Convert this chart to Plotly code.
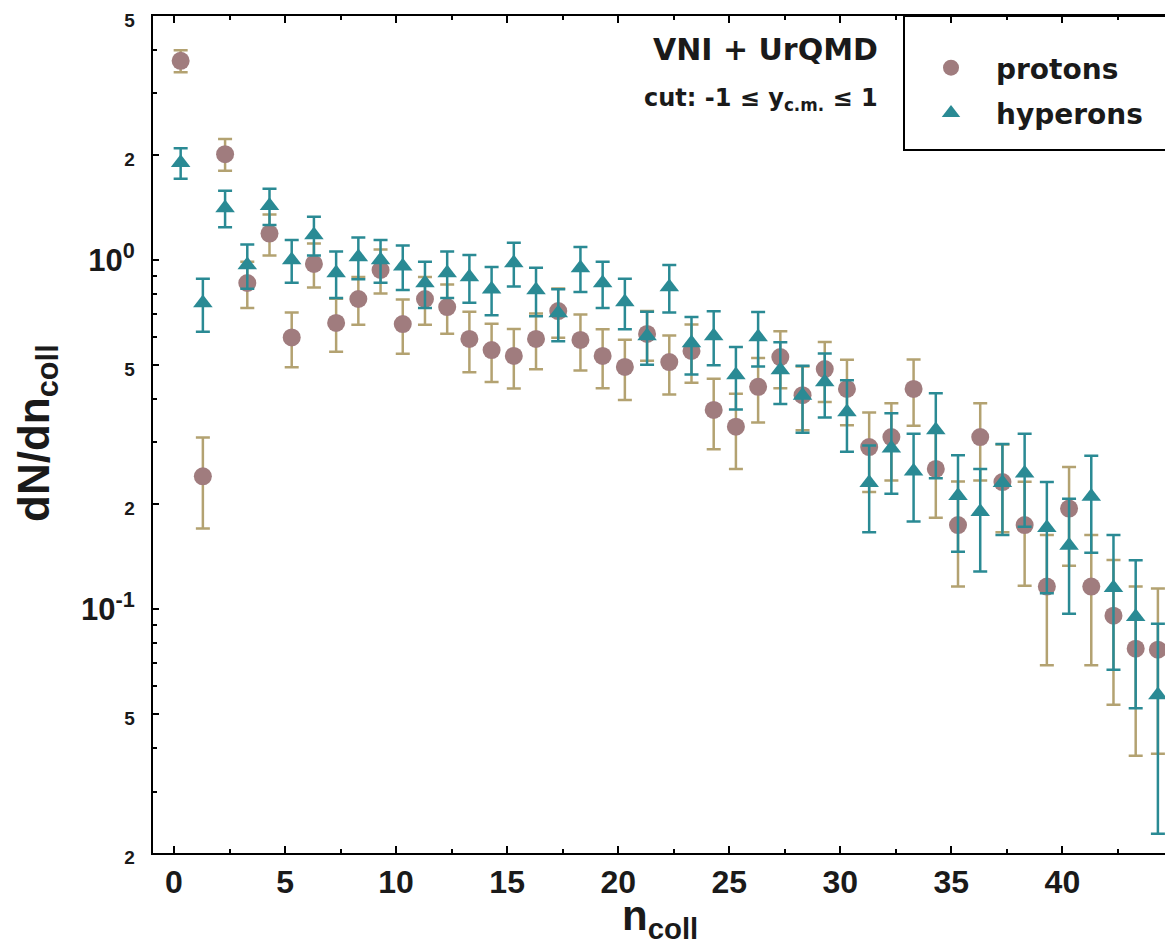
import plotly.graph_objects as go

# ---------------- data ----------------
n_coll = [i + 0.3 for i in range(45)]

protons = [3.72, 0.240, 2.01, 0.859, 1.19, 0.60, 0.974, 0.66, 0.773, 0.936,
           0.655, 0.773, 0.733, 0.594, 0.552, 0.531, 0.594, 0.714, 0.59, 0.531,
           0.494, 0.614, 0.51, 0.549, 0.372, 0.333, 0.433, 0.527, 0.41, 0.487,
           0.427, 0.291, 0.311, 0.427, 0.252, 0.174, 0.311, 0.231, 0.174, 0.116,
           0.194, 0.116, 0.0957, 0.077, 0.0765]
protons_err = [0.27, 0.07, 0.21, 0.13, 0.16, 0.107, 0.14, 0.114, 0.121, 0.135,
               0.116, 0.121, 0.118, 0.117, 0.105, 0.103, 0.108, 0.115, 0.108, 0.102,
               0.097, 0.10, 0.098, 0.104, 0.085, 0.081, 0.091, 0.098, 0.085, 0.095,
               0.091, 0.0745, 0.0775, 0.092, 0.0695, 0.058, 0.0775, 0.065, 0.0575, 0.047,
               0.061, 0.047, 0.0425, 0.039, 0.038]

hyperons = [1.90, 0.753, 1.41, 0.967, 1.43, 1.0, 1.18, 0.918, 1.02, 1.0,
            0.96, 0.859, 0.918, 0.894, 0.825, 0.98, 0.82, 0.705, 0.949, 0.859,
            0.758, 0.606, 0.837, 0.578, 0.606, 0.468, 0.602, 0.484, 0.409, 0.447,
            0.367, 0.23, 0.289, 0.248, 0.326, 0.211, 0.19, 0.23, 0.245, 0.171,
            0.152, 0.21, 0.115, 0.095, 0.0567]
hyperons_err = [0.19, 0.13, 0.17, 0.14, 0.17, 0.14, 0.15, 0.14, 0.14, 0.14,
                0.14, 0.13, 0.14, 0.14, 0.13, 0.14, 0.13, 0.12, 0.14, 0.13,
                0.125, 0.105, 0.13, 0.108, 0.107, 0.095, 0.107, 0.097, 0.089, 0.093,
                0.085, 0.064, 0.075, 0.07, 0.089, 0.065, 0.062, 0.067, 0.073, 0.06,
                0.055, 0.065, 0.048, 0.043, 0.034]

x_tick_vals = [0, 5, 10, 15, 20, 25, 30, 35, 40]
x_minor_vals = [2.5, 7.5, 12.5, 17.5, 22.5, 27.5, 32.5, 37.5, 42.5]
y_tick_vals = [0.02, 0.05, 0.1, 0.2, 0.5, 1, 2, 5]
y_tick_text = ['<span style="font-size:19px">2</span>',
               '<span style="font-size:19px">5</span>',
               '10<sup>-1</sup>',
               '<span style="font-size:19px">2</span>',
               '<span style="font-size:19px">5</span>',
               '10<sup>0</sup>',
               '<span style="font-size:19px">2</span>',
               '<span style="font-size:19px">5</span>']
y_minor_vals = [0.03, 0.04, 0.06, 0.07, 0.08, 0.09,
                0.3, 0.4, 0.6, 0.7, 0.8, 0.9,
                3, 4]

# ---------------- styles ----------------
P_COLOR = "#A07C7E"
P_ERR = "#B3A271"
H_COLOR = "#2A8A94"
FONT = "Liberation Sans"
FONT_WIDE = "DejaVu Sans"

W, H = 1165, 946
L, R, T, B = 153, 0, 16, 93
pw, ph = W - L - R, H - T - B

def px_x(px):
    return (px - L) / pw

def px_y(py):
    return (H - B - py) / ph

fig = go.Figure()

fig.add_trace(go.Scatter(
    x=n_coll, y=protons, mode="markers", name="protons",
    marker=dict(symbol="circle", size=18, color=P_COLOR),
    error_y=dict(type="data", array=protons_err, color=P_ERR, thickness=2.5, width=7),
    legendgroup="p",
))
fig.add_trace(go.Scatter(
    x=n_coll, y=hyperons, mode="markers", name="hyperons",
    marker=dict(symbol="triangle-up", size=17, color=H_COLOR),
    error_y=dict(type="data", array=hyperons_err, color=H_COLOR, thickness=2.5, width=7),
    legendgroup="h",
))

scale = 22.21
zero_px = 174
x0 = (L - zero_px) / scale
x1 = (W - zero_px) / scale

fig.update_xaxes(
    range=[x0, x1],
    tickvals=x_tick_vals, ticktext=[str(v) for v in x_tick_vals],
    ticks="inside", ticklen=7, tickwidth=2, tickcolor="black",
    minor=dict(tickvals=x_minor_vals, ticks="inside", ticklen=4, tickwidth=2, tickcolor="black"),
    showline=True, linecolor="black", linewidth=2, mirror="ticks",
    showgrid=False, zeroline=False,
    tickfont=dict(family=FONT, size=32, color="#1a1a1a", weight="bold"),
)
fig.update_yaxes(
    type="log", range=[-1.69897, 0.69897],
    tickvals=y_tick_vals, ticktext=y_tick_text,
    ticks="inside", ticklen=6, tickwidth=2, tickcolor="black",
    minor=dict(tickvals=y_minor_vals, ticks="inside", ticklen=4, tickwidth=2, tickcolor="black"),
    showline=True, linecolor="black", linewidth=2, mirror=False,
    showgrid=False, zeroline=False,
    ticklabelstandoff=10,
    tickfont=dict(family=FONT, size=31, color="#1a1a1a", weight="bold"),
)

# legend box
fig.add_shape(type="rect", xref="paper", yref="paper",
              x0=px_x(904), x1=px_x(1200), y0=px_y(150), y1=px_y(T),
              line=dict(color="black", width=2), fillcolor="rgba(0,0,0,0)")

fig.update_layout(
    width=W, height=H,
    margin=dict(l=L, r=R, t=T, b=B, pad=0),
    paper_bgcolor="white", plot_bgcolor="white",
    showlegend=True,
    legend=dict(
        x=px_x(906), y=px_y(43), xanchor="left", yanchor="top",
        bgcolor="rgba(0,0,0,0)", borderwidth=0,
        font=dict(family=FONT_WIDE, size=28, color="#1a1a1a", weight="bold"),
        itemwidth=80, tracegroupgap=6,
    ),
    annotations=[
        dict(text="VNI + UrQMD", x=px_x(880), y=px_y(50), xref="paper", yref="paper",
             xanchor="right", yanchor="middle", showarrow=False,
             font=dict(family=FONT_WIDE, size=30, color="#1a1a1a", weight="bold")),
        dict(text="cut: -1 ≤ y<sub>c.m.</sub> ≤ 1", x=px_x(880), y=px_y(100),
             xref="paper", yref="paper", xanchor="right", yanchor="middle", showarrow=False,
             font=dict(family=FONT_WIDE, size=24, color="#1a1a1a", weight="bold")),
        dict(text="dN/dn<sub>coll</sub>", x=px_x(37), y=px_y(433), xref="paper", yref="paper",
             xanchor="center", yanchor="middle", textangle=-90, showarrow=False,
             font=dict(family=FONT, size=44, color="#1a1a1a", weight="bold")),
        dict(text="n<sub>coll</sub>", x=px_x(660), y=px_y(918), xref="paper", yref="paper",
             xanchor="center", yanchor="middle", showarrow=False,
             font=dict(family=FONT, size=42, color="#1a1a1a", weight="bold")),
    ],
)

fig.write_html("out.html")
